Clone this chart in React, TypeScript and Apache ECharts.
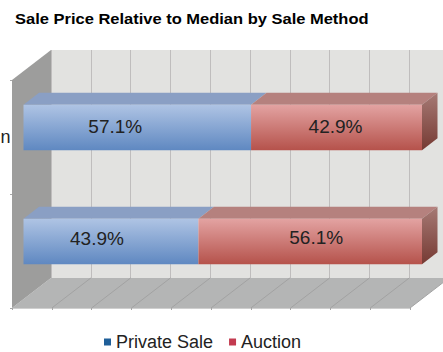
import React, { useEffect, useRef } from "react";
import * as echarts from "echarts";

const titleText = "Sale Price Relative to Median by Sale Method";
const categories = ["n", ""];
const seriesNames = ["Private Sale", "Auction"];
const privateSale = [57.1, 43.9];
const auction = [42.9, 56.1];
const axisTicks = [0, 10, 20, 30, 40, 50, 60, 70, 80, 90, 100];

const FONT = "'Liberation Sans', Arial, sans-serif";
const DX = 15.5;
const DY = 12;
const FLOOR_DX = 39;
const FLOOR_DY = 30;
const labelShift: number[][] = [[-22, -1], [-14, -3]];
const labelShiftRed: number[][] = [[-1, -1], [6, -4]];

const blueFront = new echarts.graphic.LinearGradient(0, 0, 0, 1, [
  { offset: 0, color: "#afc4e4" },
  { offset: 1, color: "#5f88c1" },
]);
const redFront = new echarts.graphic.LinearGradient(0, 0, 0, 1, [
  { offset: 0, color: "#e3a3a2" },
  { offset: 1, color: "#b5524b" },
]);
const redSide = new echarts.graphic.LinearGradient(0, 0, 0, 1, [
  { offset: 0, color: "#a67a75" },
  { offset: 1, color: "#763a33" },
]);

function barItem(front: any, top: string, shifts: number[][], withSide: boolean) {
  return (params: any, api: any) => {
    const start = api.value(0);
    const end = api.value(1);
    const cat = api.value(2);
    const a = api.coord([start, cat]);
    const b = api.coord([end, cat]);
    const h = api.size([0, 1])[1] * 0.4;
    const x0 = a[0];
    const x1 = b[0];
    const y0 = a[1] - h / 2;
    const y1 = a[1] + h / 2;
    const shift = shifts[params.dataIndex];
    const children: any[] = [
      {
        type: "polygon",
        shape: { points: [[x0, y0], [x1, y0], [x1 + DX, y0 - DY], [x0 + DX, y0 - DY]] },
        style: { fill: top },
      },
      { type: "rect", shape: { x: x0, y: y0, width: x1 - x0, height: y1 - y0 }, style: { fill: front } },
    ];
    if (withSide) {
      children.push({
        type: "polygon",
        shape: { points: [[x1, y0], [x1 + DX, y0 - DY], [x1 + DX, y1 - DY], [x1, y1]] },
        style: { fill: redSide },
      });
    }
    children.push({
      type: "text",
      style: {
        x: (x0 + x1) / 2 + shift[0],
        y: (y0 + y1) / 2 + shift[1],
        text: api.value(3).toFixed(1) + "%",
        fill: "#222",
        font: `19px ${FONT}`,
        textAlign: "center",
        textVerticalAlign: "middle",
      },
    });
    return { type: "group", children };
  };
}

function frameItem(params: any, api: any) {
  const v = api.value(0);
  const base = api.coord([v, 1.5]);
  const cs = params.coordSys;
  const yb = cs.y + cs.height;
  const children: any[] = [];
  if (params.dataIndex === 0) {
    const xl = cs.x;
    const xr = cs.x + cs.width;
    children.push(
      {
        type: "polygon",
        shape: { points: [[xl, yb], [xr, yb], [xr + FLOOR_DX, yb - FLOOR_DY], [xl + FLOOR_DX, yb - FLOOR_DY]] },
        style: { fill: "#b4b5b5" },
      },
      {
        type: "polygon",
        shape: { points: [[xl, cs.y], [xl + FLOOR_DX, cs.y - FLOOR_DY], [xl + FLOOR_DX, yb - FLOOR_DY], [xl, yb]] },
        style: { fill: "#9d9d9c" },
      },
    );
  }
  if (v > 0 && v <= 100) {
    children.push({
      type: "line",
      shape: { x1: base[0], y1: yb, x2: base[0] + FLOOR_DX, y2: yb - FLOOR_DY },
      style: { stroke: "#a2a2a2", lineWidth: 1 },
    });
  }
  return { type: "group", children };
}

export default function App() {
  const ref = useRef<HTMLDivElement>(null);
  useEffect(() => {
    const chart = echarts.init(ref.current!, undefined, { renderer: "svg" });
    const bare = { show: false };
    chart.setOption({
      animation: false,
      backgroundColor: "#ffffff",
      graphic: [
        {
          type: "text",
          x: 15,
          y: 11,
          scaleX: 1.1,
          style: { text: titleText, font: `bold 15px ${FONT}`, fill: "#000" },
        },
      ],
      legend: {
        left: 104,
        top: 333,
        padding: 0,
        icon: "rect",
        itemWidth: 7,
        itemHeight: 7,
        itemGap: 16,
        data: [
          { name: seriesNames[0], itemStyle: { color: "#1f5f99" } },
          { name: seriesNames[1], itemStyle: { color: "#c33b50" } },
        ],
        textStyle: { fontFamily: FONT, fontSize: 18, color: "#222" },
      },
      grid: [
        { left: 23.5, top: 70.5, width: 398.5, height: 228, show: false, outerBoundsMode: "none" },
        { left: 51, top: 50, width: 398, height: 228, show: true, backgroundColor: "#e2e2e0", borderWidth: 0, outerBoundsMode: "none" },
        { left: 12, top: 80, width: 398, height: 228, show: false, outerBoundsMode: "none" },
      ],
      xAxis: [
        { gridIndex: 0, type: "value", min: 0, max: 100, show: false },
        {
          gridIndex: 1,
          type: "value",
          min: 0,
          max: 100,
          interval: 10,
          axisLine: bare,
          axisTick: bare,
          axisLabel: bare,
          splitLine: { show: true, lineStyle: { color: "#bfbdbd", width: 1 } },
        },
        {
          gridIndex: 2,
          type: "value",
          min: 0,
          max: 100,
          interval: 10,
          z: 5,
          axisLine: { show: true, lineStyle: { color: "#cfcfcf" } },
          axisTick: { show: true, length: 2, lineStyle: { color: "#a8a8a8" } },
          axisLabel: bare,
          splitLine: bare,
        },
      ],
      yAxis: [
        { gridIndex: 0, type: "category", inverse: true, data: categories, show: false },
        { gridIndex: 1, type: "value", show: false },
        {
          gridIndex: 2,
          type: "category",
          inverse: true,
          data: categories,
          z: 5,
          axisLine: { show: false },
          axisTick: { show: true, length: 2, lineStyle: { color: "#a8a8a8" } },
          axisLabel: { margin: 1.5, fontFamily: FONT, fontSize: 18, color: "#222" },
        },
      ],
      series: [
        {
          type: "custom",
          name: "frame",
          xAxisIndex: 2,
          yAxisIndex: 2,
          z: 1,
          silent: true,
          renderItem: frameItem,
          data: axisTicks.map((t) => [t]),
          encode: { x: 0 },
        },
        {
          type: "custom",
          name: seriesNames[0],
          xAxisIndex: 0,
          yAxisIndex: 0,
          z: 3,
          itemStyle: { color: "#1f5f99" },
          renderItem: barItem(blueFront, "#8a9fc4", labelShift, false),
          data: privateSale.map((v, i) => [0, v, i, v]),
          encode: { x: [0, 1], y: 2 },
        },
        {
          type: "custom",
          name: seriesNames[1],
          xAxisIndex: 0,
          yAxisIndex: 0,
          z: 3,
          itemStyle: { color: "#c33b50" },
          renderItem: barItem(redFront, "#b5817e", labelShiftRed, true),
          data: auction.map((v, i) => [privateSale[i], privateSale[i] + v, i, v]),
          encode: { x: [0, 1], y: 2 },
        },
      ],
    });
    return () => chart.dispose();
  }, []);
  return <div ref={ref} style={{ position: "fixed", left: 0, top: 0, width: 443, height: 352 }} />;
}
